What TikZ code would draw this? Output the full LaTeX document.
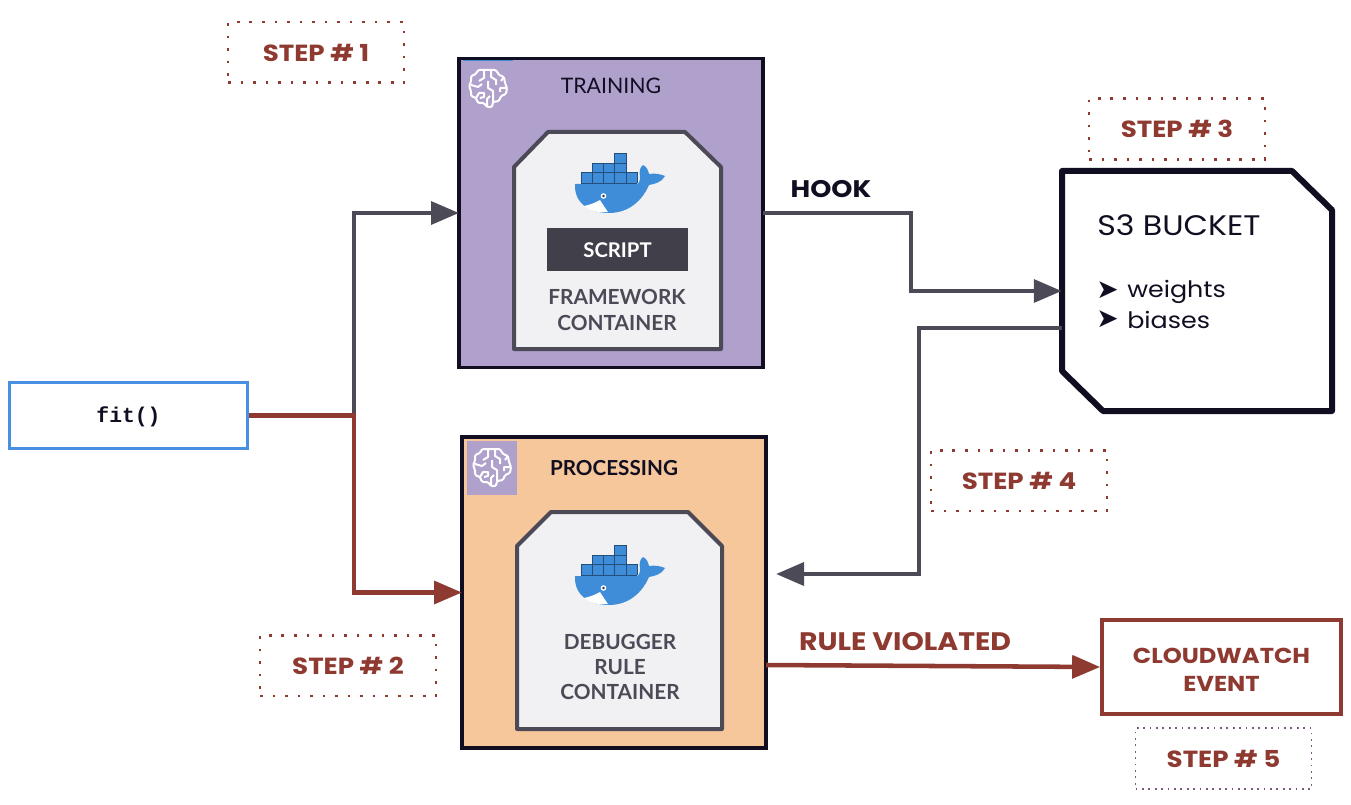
\documentclass[tikz,border=0pt]{standalone}
\usepackage{fontspec}
\setmainfont{Lato}
\newfontfamily\popp[FakeStretch=1.12]{Poppins}
\newfontfamily\monof{Liberation Mono}
\newfontfamily\djv{DejaVu Sans}
\usetikzlibrary{arrows.meta,calc}
\definecolor{inkdark}{HTML}{120E21}
\definecolor{slategray}{HTML}{4D4A57}
\definecolor{brick}{HTML}{8F3A31}
\definecolor{lilac}{HTML}{B0A0CC}
\definecolor{peach}{HTML}{F6C79B}
\definecolor{pale}{HTML}{F1F1F3}
\definecolor{whaleblue}{HTML}{3F8DD8}
\definecolor{fitblue}{HTML}{4A90E2}
\definecolor{mauve}{HTML}{7D5A80}
\tikzset{
  x=.75pt,y=-.75pt,
  jobbox/.style={draw=inkdark,rectangle,inner sep=0pt,outer sep=0pt},
  stepbox/.style={rectangle,draw=brick,line width=2pt,dash pattern=on 2pt off 7.4pt,inner sep=0pt,
    minimum width=132pt,minimum height=45.5pt,text=brick,font=\popp\bfseries\fontsize{17.5}{20}\selectfont},
  graywire/.style={draw=slategray,line width=3.4pt,-{Triangle[length=21pt,width=17pt,fill=slategray]}},
  redwire/.style={draw=brick,line width=3.4pt,-{Triangle[length=21pt,width=17pt,fill=brick]}},
  boxtitle/.style={text=inkdark,font=\fontsize{16}{20}\selectfont},
  boxlabel/.style={text=slategray,align=center,font=\fontsize{15.6}{18.9}\selectfont\bfseries},
  wirelabel/.style={font=\popp\bfseries\fontsize{18}{21}\selectfont},
  pics/whale/.style={code={
    \fill[whaleblue] (0,31) -- (61,31) .. controls (64,31) and (65,28) .. (65,24)
      .. controls (64,18) and (65,14) .. (68,12) .. controls (72,14) and (73,17) .. (74,21)
      .. controls (80,20) and (85,21) .. (90,23) .. controls (87,29) and (80,31) .. (74,32)
      .. controls (68,46) and (55,60) .. (34,60) .. controls (14,60) and (-1,50) .. (0,31) -- cycle;
    \fill[whaleblue] (6,19) rectangle (62,30);
    \fill[whaleblue] (17,10) rectangle (51,19);
    \fill[whaleblue] (39,0) rectangle (51,10);
    \draw[whaleblue!55!black,line width=.4pt]
      (6,19) -- (62,19) (6,30) -- (62,30) (17,10) -- (51,10)
      (17,10) -- (17,30) (28,10) -- (28,30) (39,0) -- (39,30) (51,0) -- (51,30) (6,19) -- (6,30)
      (39,0) -- (51,0) (62,19) -- (62,30);
    \fill[white] (9,53) .. controls (14,52) and (20,50) .. (25,47) .. controls (28,52) and (31,56) .. (33,59)
      .. controls (24,60) and (15,58) .. (9,53) -- cycle;
    \fill[white] (28.5,43) circle (2.8);
    \fill[inkdark!70!whaleblue] (28.5,43) circle (1.3);
  }},
  pics/brain/.style={code={
    \draw[#1,line width=1.5pt,line join=round,rounded corners=1pt]
      (-4,-18) -- (-10,-18) -- (-12,-14) -- (-17,-12) -- (-17,-6) -- (-19,-2) -- (-17,3) -- (-17,8)
      -- (-12,10) -- (-10,15) -- (-4,15) -- (-1,19) -- (4,19) -- (5,14) -- (11,13) -- (13,8) -- (18,6)
      -- (19,0) -- (17,-5) -- (16,-11) -- (11,-13) -- (8,-18) -- cycle;
    \draw[#1,line width=1.5pt,line join=round]
      (-4,-18) -- (-4,-10) -- (-9,-7) (-17,-3) -- (-10,-1) -- (-6,-4)
      (-12,10) -- (-9,5) -- (-4,5) -- (-4,9) -- (-8,10)
      (3,-18) -- (3,-11) -- (8,-8) -- (8,-3) (0,-7) -- (0,0) -- (5,3) -- (5,14)
      (19,0) -- (12,0) -- (12,4) (-1,19) -- (-1,11) -- (2,8) (16,-11) -- (13,-7);
  }},
}
\begin{document}
\begin{tikzpicture}
\useasboundingbox (0,0) rectangle (1351,805);

% main boxes
\node[jobbox,line width=2.6pt,fill=lilac,minimum width=228pt,minimum height=232pt,anchor=center] (train) at (611,213) {};
\node[jobbox,line width=3.4pt,fill=peach,minimum width=228pt,minimum height=233pt,anchor=center] (proc) at (614,592.5) {};
\draw[whaleblue,line width=.6pt] (463,60) -- (513,60);
\fill[lilac] (467,441) rectangle (517,495);
\pic at (488,88) {brain=white};
\pic at (492,467) {brain=white};
\node[boxtitle] (traint) at (611,86) {TRAINING};
\node[boxtitle,font=\fontsize{15.5}{20}\selectfont\bfseries] (proct) at (614,468) {PROCESSING};

% containers
\draw[slategray,line width=3pt,fill=pale,line join=round] (548,132) -- (685,132) -- (721,167) -- (721,349) -- (514,349) -- (514,167) -- cycle;
\draw[slategray,line width=3pt,fill=pale,line join=round] (551,512) -- (688,512) -- (722,546) -- (722,729) -- (517,729) -- (517,546) -- cycle;
\pic at (575,153) {whale};
\pic at (575,545) {whale};
\node[fill=slategray!85!black,minimum width=105.75pt,minimum height=32.25pt,inner sep=0pt,text=white,font=\fontsize{15.2}{20}\selectfont\bfseries] (script) at (617.5,250) {SCRIPT};
\node[boxlabel] (fw) at (617,310) {FRAMEWORK\\CONTAINER};
\node[boxlabel] (dbg) at (620,667) {DEBUGGER\\RULE\\CONTAINER};

% s3
\node[inner sep=0pt,minimum width=202.5pt,minimum height=180pt] (s3) at (1197,291) {};
\draw[inkdark,line width=4.5pt,line join=round] (1062,171) -- (1292,171) -- (1332,210) -- (1332,411) -- (1103,411) -- (1062,371) -- cycle;
\node[anchor=west,inner sep=0pt,text=inkdark,font=\popp\fontsize{21.2}{24}\selectfont] (s3t) at (1097,225) {S3 BUCKET};
\node[anchor=west,inner sep=0pt,text=inkdark,font=\djv\fontsize{20}{22}\selectfont] (b1) at (1096,290) {➤};
\node[anchor=west,inner sep=0pt,text=inkdark,font=\djv\fontsize{20}{22}\selectfont] (b2) at (1096,319) {➤};
\node[anchor=base west,inner sep=0pt,text=inkdark,font=\popp\fontsize{17}{20}\selectfont] (w) at (1127,298) {weights};
\node[anchor=base west,inner sep=0pt,text=inkdark,font=\popp\fontsize{17}{20}\selectfont] (bi) at (1127,328) {biases};

% fit and cloudwatch
\node[draw=fitblue,line width=2.2pt,fill=white,inner sep=0pt,minimum width=179pt,minimum height=50pt,text=inkdark,font=\monof\bfseries\fontsize{16}{18}\selectfont] (fit) at (128.5,415.5) {\raisebox{-5.5pt}[0pt][0pt]{fit()}};
\node[draw=brick,line width=3pt,fill=white,inner sep=0pt,minimum width=179pt,minimum height=70.5pt,align=center,text=brick,font=\popp\bfseries\fontsize{16.2}{21}\selectfont] (cw) at (1221.5,667) {\rule{0pt}{15pt}CLOUDWATCH\\EVENT};

% connectors
\coordinate (split) at (354,415.5);
\coordinate (hookmid) at (911,213);
\coordinate (s3out) at (1062,328);
\coordinate (s4mid) at (919,328);
\coordinate (procin) at (776,574);
\coordinate (ruleout) at (766,665);
\draw[graywire] (split) |- (train.west);
\draw[graywire] (train.east) -- (hookmid) |- (s3.west);
\draw[graywire] (s3out) -- (s4mid) |- (procin);
\draw[redwire] (fit.east) -- (split) |- (proc.west);
\draw[redwire] (ruleout) -- (cw.west);

% labels
\node[wirelabel,text=inkdark] (hook) at (831,189) {HOOK};
\node[wirelabel,text=brick,font=\popp\bfseries\fontsize{19}{22}\selectfont] (rule) at (905,642) {RULE VIOLATED};
\node[stepbox] (st1) at (316,52.5) {STEP \# 1};
\node[stepbox] (st3) at (1177,129) {STEP \# 3};
\node[stepbox] (st4) at (1019,480.5) {STEP \# 4};
\node[stepbox] (st2) at (348,665.5) {STEP \# 2};
\node[stepbox,draw=mauve,line width=1.4pt,dash pattern=on 1.4pt off 3.4pt] (st5) at (1223.5,758.5) {STEP \# 5};
\end{tikzpicture}
\end{document}
